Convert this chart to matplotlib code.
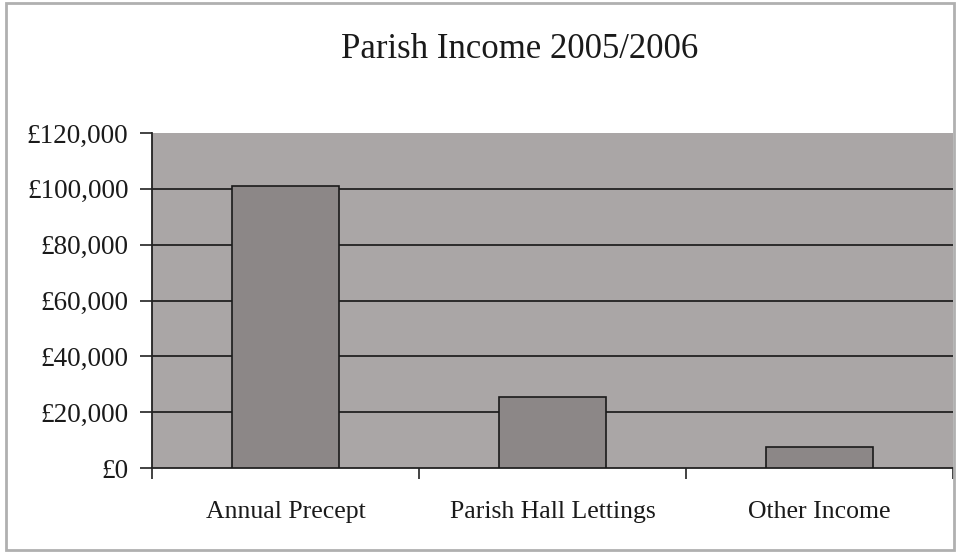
import matplotlib
matplotlib.use('Agg')
import matplotlib.pyplot as plt
import numpy as np
from matplotlib.patches import Rectangle

categories = ['Annual Precept', 'Parish Hall Lettings', 'Other Income']
income = [101000, 25300, 7400]
yticks = [0, 20000, 40000, 60000, 80000, 100000, 120000]
ylabels = ['£0', '£20,000', '£40,000', '£60,000', '£80,000', '£100,000', '£120,000']

plt.rcParams['font.family'] = ['Liberation Serif', 'DejaVu Serif']

fig = plt.figure(figsize=(9.58, 5.52), dpi=100)
ax = fig.add_axes([152/958, 84/552, 801/958, 335/552])
ax.set_facecolor('#aaa6a6')

x = np.arange(len(categories))
ax.bar(x, income, width=0.4, color='#8c8787', edgecolor='#1a1a1a', linewidth=1.2, zorder=3)

ax.set_xlim(-0.5, len(categories) - 0.5)
ax.set_ylim(0, 120000)
ax.set_yticks(yticks)
ax.set_yticklabels(ylabels, fontsize=19.5, color='#1a1a1a')
for v in yticks[1:-1]:
    ax.axhline(v, color='#222222', linewidth=1.3, zorder=1)

ax.set_xticks(np.arange(-0.5, len(categories), 1.0))
ax.set_xticklabels([])
ax.set_xticks(x, minor=True)
ax.set_xticklabels(categories, minor=True, fontsize=18.5, color='#1a1a1a')
ax.tick_params(axis='x', which='minor', length=0, pad=24)
ax.tick_params(axis='x', which='major', length=8, width=1.2, color='#222222')
ax.tick_params(axis='y', length=9, width=1.2, color='#222222', pad=8)

ax.spines['top'].set_visible(False)
ax.spines['right'].set_visible(False)
ax.spines['left'].set_color('#222222')
ax.spines['bottom'].set_color('#222222')
ax.spines['left'].set_linewidth(1.3)
ax.spines['bottom'].set_linewidth(1.3)

fig.text(520/958, 1 - 49/552, 'Parish Income 2005/2006', fontsize=25, ha='center', va='center', color='#1a1a1a')

# scanned page frame
fig.patches.append(Rectangle((0.006, 0.004), 0.99, 0.99, transform=fig.transFigure,
                             fill=False, edgecolor='#b0b0b0', linewidth=2))

fig.savefig('out.png', dpi=100)
